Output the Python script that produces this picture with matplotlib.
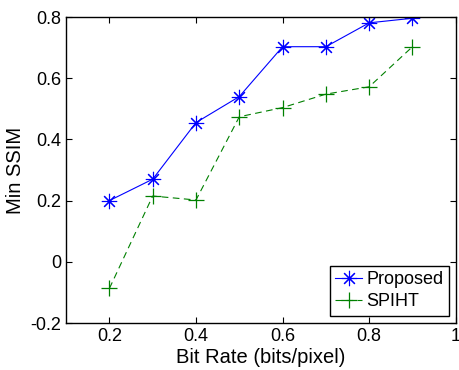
import matplotlib.pyplot as plt
import numpy as np

plt.rcParams['font.family'] = ['Liberation Sans', 'DejaVu Sans']

bit_rate = [0.2, 0.3, 0.4, 0.5, 0.6, 0.7, 0.8, 0.9]
proposed = [0.200, 0.270, 0.455, 0.540, 0.703, 0.703, 0.781, 0.796]
spiht = [-0.087, 0.215, 0.202, 0.474, 0.504, 0.548, 0.572, 0.703]

fig = plt.figure(figsize=(4.59, 3.70), dpi=100)
ax = fig.add_axes([0.144, 0.127, 0.849, 0.827])

ax.plot(bit_rate, proposed, color='blue', linestyle='-', linewidth=0.8,
        marker=(8, 2, 0), markersize=11, markeredgewidth=0.8,
        label='Proposed')
ax.plot(bit_rate, spiht, color='green', linestyle=(0, (6, 4)), linewidth=0.8,
        marker='+', markersize=12, markeredgewidth=0.9, label='SPIHT')

ax.set_xlim(0.1, 1.0)
ax.set_ylim(-0.2, 0.8)
ax.set_xticks([0.2, 0.4, 0.6, 0.8, 1.0])
ax.set_xticklabels(['0.2', '0.4', '0.6', '0.8', '1'])
ax.set_yticks([-0.2, 0, 0.2, 0.4, 0.6, 0.8])
ax.set_yticklabels(['-0.2', '0', '0.2', '0.4', '0.6', '0.8'])
ax.tick_params(direction='in', top=True, right=True, labelsize=13, length=4)
for s in ax.spines.values():
    s.set_linewidth(1.0)

ax.set_xlabel('Bit Rate (bits/pixel)', fontsize=14.5, labelpad=2)
ax.set_ylabel('Min SSIM', fontsize=14.5, labelpad=4)

leg = ax.legend(loc='lower right', fontsize=13, fancybox=False,
                edgecolor='black', framealpha=1, borderpad=0.3,
                handlelength=1.5, handletextpad=0.2, labelspacing=0.3,
                borderaxespad=0.4)
leg.get_frame().set_linewidth(1.0)

fig.savefig('out.png', dpi=100)
